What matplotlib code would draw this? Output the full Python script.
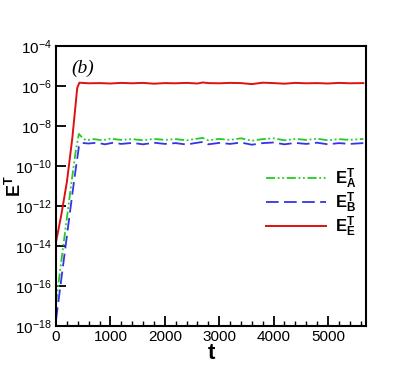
import numpy as np
import matplotlib
matplotlib.use('Agg')
import matplotlib.pyplot as plt
from matplotlib.ticker import FixedLocator, MultipleLocator, FuncFormatter

plt.rcParams['font.family'] = 'Liberation Sans'
plt.rcParams['mathtext.fontset'] = 'custom'
plt.rcParams['mathtext.rm'] = 'Liberation Sans'
plt.rcParams['mathtext.bf'] = 'Liberation Sans:bold'
plt.rcParams['mathtext.it'] = 'Liberation Sans:italic'

# data (log10 of energy)
t_E = [0, 100, 200, 300, 390, 430, 600, 800, 1000, 1200, 1400, 1600, 1800, 2000, 2200,
       2400, 2600, 2700, 2800, 3000, 3200, 3400, 3600, 3800, 4000, 4200, 4400,
       4600, 4800, 5000, 5200, 5400, 5650]
logE_E = [-13.8, -12.4, -10.8, -8.6, -6.1, -5.84, -5.87, -5.86, -5.88, -5.85, -5.87,
          -5.85, -5.89, -5.86, -5.87, -5.85, -5.88, -5.83, -5.86, -5.87, -5.85, -5.86,
          -5.91, -5.84, -5.86, -5.89, -5.85, -5.87, -5.86, -5.88, -5.85, -5.87, -5.86]

t_A = [0, 100, 200, 290, 360, 420, 470, 550, 700, 850, 1000, 1200, 1400, 1600, 1800,
       2000, 2200, 2400, 2600, 2700, 2800, 3000, 3200, 3400, 3600, 3800, 4000,
       4200, 4400, 4600, 4800, 5000, 5200, 5400, 5650]
logE_A = [-16.85, -14.7, -12.6, -10.7, -9.3, -8.4, -8.55, -8.72, -8.66, -8.72, -8.64,
          -8.70, -8.66, -8.72, -8.65, -8.70, -8.66, -8.72, -8.64, -8.60, -8.72, -8.65,
          -8.70, -8.62, -8.74, -8.66, -8.62, -8.72, -8.65, -8.70, -8.64, -8.72, -8.66,
          -8.70, -8.65]

t_B = [0, 100, 200, 300, 370, 420, 470, 600, 750, 900, 1050, 1200, 1400, 1600, 1800,
       2000, 2200, 2400, 2600, 2700, 2800, 3000, 3200, 3400, 3600, 3800, 4000,
       4200, 4400, 4600, 4800, 5000, 5200, 5400, 5650]
logE_B = [-17.7, -15.6, -13.5, -11.4, -10.0, -9.05, -8.85, -8.88, -8.84, -8.92, -8.84,
          -8.90, -8.85, -8.92, -8.84, -8.90, -8.86, -8.93, -8.84, -8.80, -8.92, -8.85,
          -8.90, -8.83, -8.94, -8.86, -8.83, -8.92, -8.85, -8.90, -8.84, -8.92, -8.86,
          -8.90, -8.86]

fig = plt.figure(figsize=(4.15, 3.7), dpi=100)
ax = fig.add_axes([0.135, 0.119, 0.747, 0.757])

ax.plot(t_A, 10.0**np.array(logE_A), color='#22cc22', lw=1.3,
        dashes=(5, 1.5, 1, 1.5, 1, 1.5), label=r'$\mathbf{E_A^T}$')
ax.plot(t_B, 10.0**np.array(logE_B), color='#3333ee', lw=1.3,
        dashes=(7, 3), label=r'$\mathbf{E_B^T}$')
ax.plot(t_E, 10.0**np.array(logE_E), color='#dd1111', lw=1.4,
        label=r'$\mathbf{E_E^T}$')

ax.set_yscale('log')
ax.set_xlim(0, 5700)
ax.set_ylim(1e-18, 1e-4)
ax.yaxis.set_major_locator(FixedLocator([10.0**k for k in range(-18, -3, 2)]))
ax.yaxis.set_minor_locator(FixedLocator([]))
ax.yaxis.set_major_formatter(FuncFormatter(
    lambda v, p: r'$\mathregular{10^{%d}}$' % int(round(np.log10(v)))))
ax.xaxis.set_major_locator(MultipleLocator(1000))
ax.xaxis.set_minor_locator(MultipleLocator(200))

ax.tick_params(which='major', direction='in', length=7, width=1.3, labelsize=11, pad=3)
ax.tick_params(which='minor', direction='in', length=3.5, width=1)
for s in ax.spines.values():
    s.set_linewidth(1.5)

ax.set_xlabel('t', fontsize=16, fontweight='bold', labelpad=-1)
ax.set_ylabel(r'$\mathbf{E^T}$', fontsize=13)
ax.yaxis.set_label_coords(-0.1, 0.5)

ax.text(0.05, 0.95, '(b)', transform=ax.transAxes, fontsize=14,
        family='Liberation Serif', style='italic', va='top')

ax.legend(loc='center left', bbox_to_anchor=(0.63, 0.44), frameon=False,
          handlelength=3.6, fontsize=12, labelspacing=0.0, handletextpad=0.5)

fig.savefig('out.png', dpi=100)
